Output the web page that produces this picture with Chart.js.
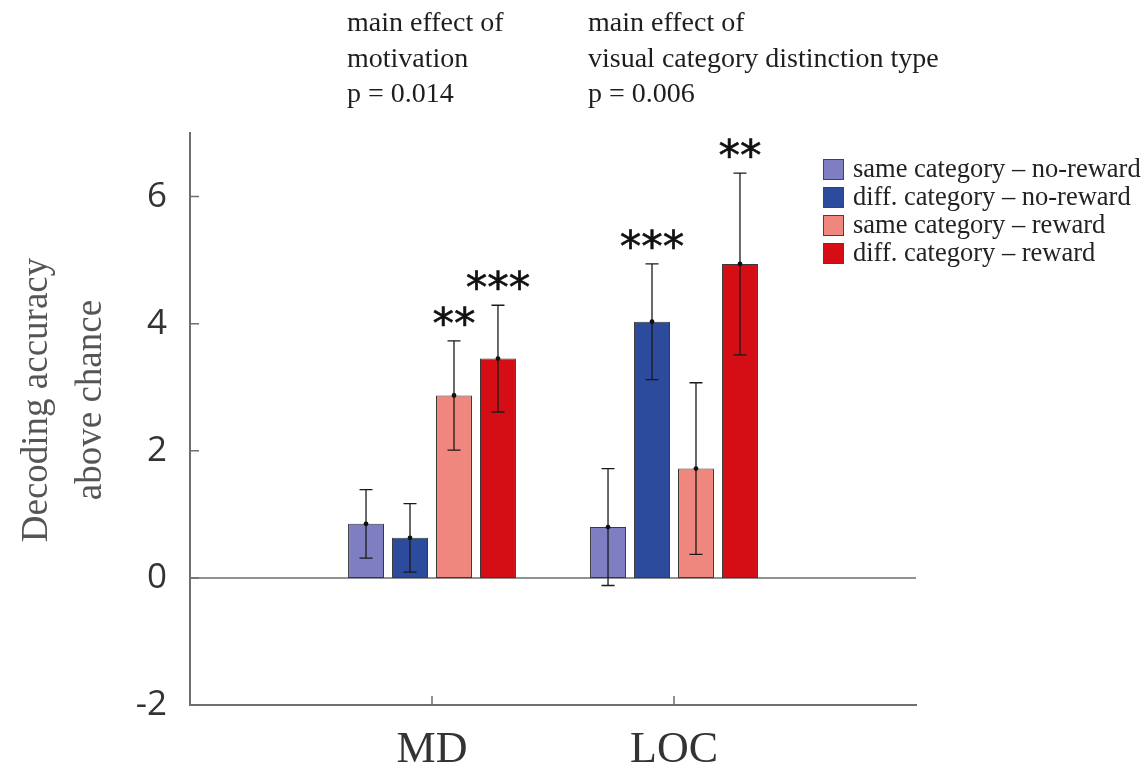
<!DOCTYPE html>
<html>
<head>
<meta charset="utf-8">
<script src="https://cdn.jsdelivr.net/npm/chart.js@4.4.1/dist/chart.umd.min.js"></script>
<style>
html,body{margin:0;padding:0;background:#fff;}
#wrap{width:1146px;height:768px;position:relative;}
</style>
</head>
<body>
<div id="wrap"><canvas id="c" width="1146" height="768"></canvas></div>
<script>
// ---- data ----
const categories = ['', 'MD', 'LOC', ''];
const seriesLabels = ['same category \u2013 no-reward', 'diff. category \u2013 no-reward', 'same category \u2013 reward', 'diff. category \u2013 reward'];
const sameNoReward = [null, 0.85, 0.80, null];
const diffNoReward = [null, 0.63, 4.03, null];
const sameReward   = [null, 2.87, 1.72, null];
const diffReward   = [null, 3.45, 4.94, null];
const sameNoRewardErr = [null, 0.54, 0.92, null];
const diffNoRewardErr = [null, 0.54, 0.91, null];
const sameRewardErr   = [null, 0.86, 1.35, null];
const diffRewardErr   = [null, 0.84, 1.43, null];
const sameNoRewardStars = ['', '', '', ''];
const diffNoRewardStars = ['', '', '***', ''];
const sameRewardStars   = ['', '**', '', ''];
const diffRewardStars   = ['', '***', '**', ''];
const yTicks = [-2, 0, 2, 4, 6];
const yMin = -2, yMax = 7;
const yTitleLines = ['Decoding accuracy', 'above chance'];
const noteLeft = ['main effect of', 'motivation', 'p = 0.014'];
const noteRight = ['main effect of', 'visual category distinction type', 'p = 0.006'];

const colors = ['#7f7ec2', '#2d4b9d', '#f0877f', '#d50d15'];
const errs = [sameNoRewardErr, diffNoRewardErr, sameRewardErr, diffRewardErr];
const stars = [sameNoRewardStars, diffNoRewardStars, sameRewardStars, diffRewardStars];
const values = [sameNoReward, diffNoReward, sameReward, diffReward];

const serif = '"Liberation Serif", "Times New Roman", serif';

const decor = {
  id: 'decor',
  beforeDatasetsDraw(chart) {
    const ctx = chart.ctx, y = chart.scales.y, a = chart.chartArea;
    const y0 = y.getPixelForValue(0);
    ctx.save();
    ctx.strokeStyle = '#6e6e6e';
    ctx.lineWidth = 1.5;
    ctx.beginPath();
    ctx.moveTo(a.left, y0);
    ctx.lineTo(a.right, y0);
    ctx.stroke();
    ctx.restore();
  },
  afterDatasetsDraw(chart) {
    const ctx = chart.ctx, ys = chart.scales.y;
    ctx.save();
    chart.data.datasets.forEach((ds, di) => {
      const meta = chart.getDatasetMeta(di);
      meta.data.forEach((bar, i) => {
        const v = values[di][i];
        if (v === null) return;
        const e = errs[di][i];
        const x = bar.x;
        const yt = ys.getPixelForValue(v + e);
        const yb = ys.getPixelForValue(v - e);
        const ym = ys.getPixelForValue(v);
        ctx.strokeStyle = '#1a1a1a';
        ctx.lineWidth = 1.3;
        ctx.beginPath();
        ctx.moveTo(x, yt); ctx.lineTo(x, yb);
        ctx.moveTo(x - 6.5, yt); ctx.lineTo(x + 6.5, yt);
        ctx.moveTo(x - 6.5, yb); ctx.lineTo(x + 6.5, yb);
        ctx.stroke();
        ctx.fillStyle = '#111';
        ctx.beginPath();
        ctx.arc(x, ym, 2.4, 0, Math.PI * 2);
        ctx.fill();
        const s = stars[di][i];
        if (s) {
          ctx.font = '43px "DejaVu Sans", sans-serif';
          ctx.textAlign = 'center';
          ctx.textBaseline = 'alphabetic';
          ctx.fillStyle = '#111';
          ctx.lineWidth = 0.6;
          ctx.strokeStyle = '#111';
          ctx.fillText(s, x, yt - 3);
          ctx.strokeText(s, x, yt - 3);
        }
      });
    });
    ctx.restore();
  },
  afterDraw(chart) {
    const ctx = chart.ctx, a = chart.chartArea, ys = chart.scales.y, xs = chart.scales.x;
    ctx.save();
    // inward ticks
    ctx.strokeStyle = '#6e6e6e';
    ctx.lineWidth = 1.5;
    ctx.beginPath();
    yTicks.forEach(v => {
      const p = ys.getPixelForValue(v);
      ctx.moveTo(a.left, p); ctx.lineTo(a.left + 9, p);
    });
    categories.forEach((c, i) => {
      if (!c) return;
      const p = xs.getPixelForValue(i);
      ctx.moveTo(p, a.bottom); ctx.lineTo(p, a.bottom - 9);
    });
    ctx.stroke();
    // y title
    ctx.save();
    ctx.translate(0, 400);
    ctx.rotate(-Math.PI / 2);
    ctx.font = '37px ' + serif;
    ctx.fillStyle = '#555';
    ctx.textAlign = 'center';
    ctx.textBaseline = 'middle';
    ctx.fillText(yTitleLines[0], 0, 37);
    ctx.fillText(yTitleLines[1], 0, 91);
    ctx.restore();
    // top notes
    ctx.font = '28px ' + serif;
    ctx.fillStyle = '#1e1e1e';
    ctx.textAlign = 'left';
    ctx.textBaseline = 'alphabetic';
    const base = [31, 67, 102];
    noteLeft.forEach((t, i) => ctx.fillText(t, 347, base[i]));
    noteRight.forEach((t, i) => ctx.fillText(t, 588, base[i]));
    // legend
    const rows = [169, 197, 225, 253];
    ctx.font = '26.5px ' + serif;
    chart.data.datasets.forEach((ds, di) => {
      const cy = rows[di];
      ctx.fillStyle = ds.backgroundColor;
      ctx.fillRect(823, cy - 10, 21, 21);
      ctx.strokeStyle = '#444';
      ctx.lineWidth = 1;
      ctx.strokeRect(823.5, cy - 9.5, 20, 20);
      ctx.fillStyle = '#222';
      ctx.textBaseline = 'middle';
      ctx.fillText(ds.label, 853, cy + 1);
    });
    ctx.restore();
  }
};

new Chart(document.getElementById('c'), {
  type: 'bar',
  data: {
    labels: categories,
    datasets: values.map((v, i) => ({
      label: seriesLabels[i],
      data: v,
      backgroundColor: colors[i],
      borderColor: '#3a3a3a',
      borderWidth: 1,
      borderSkipped: false,
      categoryPercentage: 0.727,
      barPercentage: 0.818
    }))
  },
  options: {
    responsive: false,
    animation: false,
    devicePixelRatio: 1,
    layout: { padding: { top: 133, right: 230, left: 0, bottom: 0 } },
    plugins: { legend: { display: false }, tooltip: { enabled: false } },
    scales: {
      x: {
        offset: false,
        grid: { display: false, offset: false, drawTicks: false },
        border: { display: true, color: '#6e6e6e', width: 2 },
        ticks: { font: { family: serif, size: 44 }, color: '#333', padding: 19, maxRotation: 0, autoSkip: false },
        afterFit(s) { s.height = 63; }
      },
      y: {
        min: yMin, max: yMax,
        grid: { display: false, drawTicks: false },
        border: { display: true, color: '#6e6e6e', width: 2 },
        ticks: { font: { family: '"Open Sans", sans-serif', size: 35 }, color: '#333', padding: 23 },
        afterBuildTicks(s) { s.ticks = yTicks.map(v => ({ value: v })); },
        afterFit(s) { s.width = 190; }
      }
    }
  },
  plugins: [decor]
});
</script>
</body>
</html>
